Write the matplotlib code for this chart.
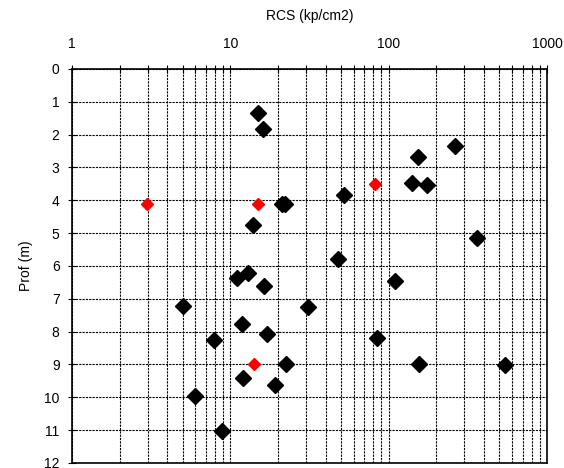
import matplotlib.pyplot as plt
from matplotlib.ticker import LogLocator, FixedLocator, NullFormatter

plt.rcParams['font.family'] = ['Liberation Sans', 'DejaVu Sans']

# ensayos (RCS en kp/cm2, profundidad en m)
rcs_negro = [15.0, 16.0, 262, 152, 140, 174, 52.3, 21.1, 22.2, 360, 13.8,
             48.1, 110, 11.0, 13.0, 16.2, 5.05, 30.7, 11.8, 17.0, 7.93,
             84.9, 22.4, 156, 546, 12.0, 19.0, 5.98, 8.9]
prof_negro = [1.33, 1.83, 2.34, 2.67, 3.48, 3.54, 3.84, 4.10, 4.12, 5.14, 4.76,
              5.80, 6.46, 6.38, 6.21, 6.62, 7.23, 7.25, 7.78, 8.08, 8.26,
              8.18, 9.00, 8.97, 9.03, 9.40, 9.61, 9.96, 11.04]

rcs_rojo = [2.99, 15.0, 81.7, 14.0]
prof_rojo = [4.12, 4.12, 3.51, 8.99]

x_ticks = [1, 10, 100, 1000]
y_ticks = list(range(0, 13))

fig = plt.figure(figsize=(5.64, 4.68), dpi=100)
ax = fig.add_axes([0.1277, 0.0107, 0.8423, 0.8419])

ax.plot(rcs_negro, prof_negro, 'D', color='black', markersize=8.5, zorder=3)
ax.plot(rcs_rojo, prof_rojo, 'D', color='red', markersize=6.5, zorder=3)

ax.set_xscale('log')
ax.set_xlim(1, 1000)
ax.set_ylim(12, 0)
ax.xaxis.set_major_locator(FixedLocator(x_ticks))
ax.set_xticklabels([str(t) for t in x_ticks])
ax.xaxis.set_minor_locator(LogLocator(base=10, subs=range(2, 10)))
ax.xaxis.set_minor_formatter(NullFormatter())
ax.set_yticks(y_ticks)

ax.xaxis.tick_top()
ax.xaxis.set_label_position('top')
ax.tick_params(axis='both', which='both', direction='inout', length=6,
               width=0.8, labelsize=10, pad=6)
ax.tick_params(axis='x', which='major', pad=10)

ax.grid(True, which='major', axis='both', color='black', linestyle=(0, (2, 1)), linewidth=0.8)
ax.grid(True, which='minor', axis='x', color='black', linestyle=(0, (2, 1)), linewidth=0.8)
for s in ax.spines.values():
    s.set_linewidth(1.2)

ax.set_xlabel("RCS (kp/cm2)", fontsize=10, labelpad=12)
ax.set_ylabel("Prof (m)", fontsize=10, labelpad=8)

fig.savefig("out.png", dpi=100)
